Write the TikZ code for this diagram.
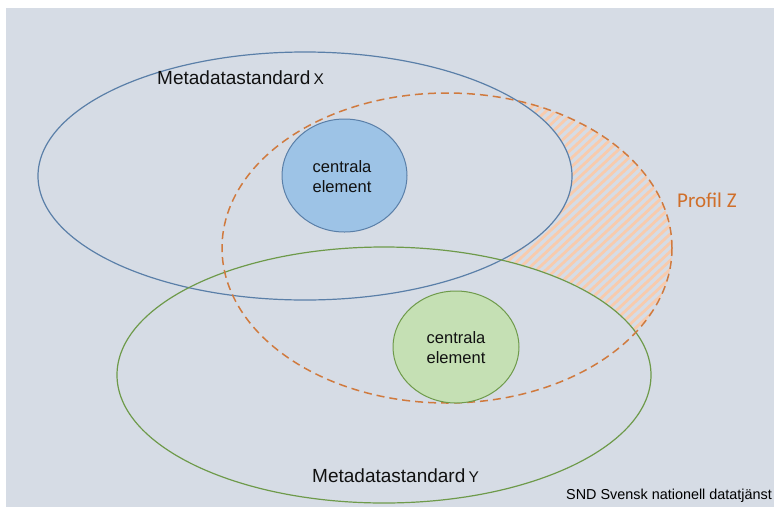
\documentclass[tikz,border=0pt]{standalone}
\usepackage{fontspec}
\usetikzlibrary{shapes.geometric}
\setmainfont{Liberation Sans}
\newfontfamily\carlito{Carlito}
\definecolor{bgc}{HTML}{D6DCE5}
\definecolor{bluel}{HTML}{5A7FA8}
\definecolor{bluef}{HTML}{9DC3E6}
\definecolor{greenl}{HTML}{6E9A4A}
\definecolor{greenf}{HTML}{C5E0B4}
\definecolor{orangel}{HTML}{D07A3E}
\definecolor{orangeh}{HTML}{F8CBAD}
\definecolor{orangetxt}{HTML}{D06F2A}
\definecolor{txt}{HTML}{111111}
\tikzset{
  stdlabel/.style={font=\fontsize{19}{22}\selectfont, text=txt, inner sep=0pt},
  coretext/.style={font=\fontsize{16.5}{20}\selectfont, text=txt, align=center, inner sep=0pt},
  stdell/.style={line width=1.2pt},
}
\begin{document}
\begin{tikzpicture}[x=1pt,y=-1pt]
\useasboundingbox (0,0) rectangle (774,507);
\clip (0,0) rectangle (774,507);
\fill[bgc] (6,8) rectangle (774,507);
% hatch: inside Z, outside X and Y
\begin{scope}
  \clip (447,248) ellipse [x radius=225, y radius=155];
  \foreach \i in {-520,-510.5,...,800}
    \draw[orangeh, line width=2.8pt] (\i,510) -- ++(560,-520);
\end{scope}
\fill[bgc] (305,176) ellipse [x radius=267, y radius=124];
\fill[bgc] (384,375) ellipse [x radius=267, y radius=128];
% outlines
\draw[stdell, bluel] (305,176) ellipse [x radius=267, y radius=124];
\draw[stdell, greenl] (384,375) ellipse [x radius=267, y radius=128];
\draw[orangel, line width=1.5pt, dash pattern=on 8pt off 5pt] (447,248) ellipse [x radius=225, y radius=155];
% central circles
\node[ellipse, draw=bluel, fill=bluef, line width=1pt, minimum width=125pt, minimum height=113pt, inner sep=0pt] (cx) at (344.5,175.5) {};
\node[ellipse, draw=greenl, fill=greenf, line width=1pt, minimum width=126pt, minimum height=112pt, inner sep=0pt] (cy) at (456,347) {};
\node[coretext, anchor=base] (tx1) at (342,172) {centrala};
\node[coretext, anchor=base] (tx2) at (342,192) {element};
\node[coretext, anchor=base] (ty1) at (456,343) {centrala};
\node[coretext, anchor=base] (ty2) at (456,363) {element};
% labels
\node[stdlabel, anchor=base west] (lx) at (157,84) {Metadatastandard\,{\fontsize{15.5}{16}\selectfont X}};
\node[stdlabel, anchor=base west] (ly) at (312,482) {Metadatastandard\,{\fontsize{15.5}{16}\selectfont Y}};
\node[anchor=base west, inner sep=0pt, text=orangetxt, font=\carlito\fontsize{21}{24}\selectfont] (lz) at (677,207) {Profil Z};
\node[anchor=base west, inner sep=0pt, text=black, font=\fontsize{14.4}{17}\selectfont] (snd) at (566,499) {SND Svensk nationell datatjänst};
\end{tikzpicture}
\end{document}
